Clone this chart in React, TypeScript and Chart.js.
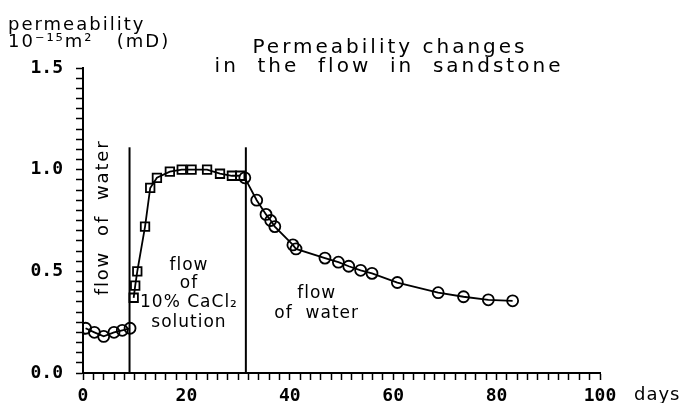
import React, { useEffect, useRef } from "react";
import { Chart, registerables } from "chart.js";

Chart.register(...registerables);

// ---- data ----
const waterBeforeDays = [0.5, 2.2, 4, 6, 7.6, 9.1];
const waterBeforePerm = [0.22, 0.2, 0.18, 0.2, 0.21, 0.22];

const cacl2Days = [9.8, 10.1, 10.5, 12, 13, 14.3, 16.8, 19.1, 21, 24, 26.5, 28.8, 30.4];
const cacl2Perm = [0.37, 0.43, 0.5, 0.72, 0.91, 0.96, 0.99, 1.0, 1.0, 1.0, 0.98, 0.97, 0.97];

const waterAfterDays = [31.3, 33.6, 35.4, 36.3, 37.1, 40.6, 41.2, 46.8, 49.4, 51.4, 53.7, 55.9, 60.8, 68.7, 73.6, 78.4, 83.1];
const waterAfterPerm = [0.96, 0.85, 0.78, 0.75, 0.72, 0.63, 0.61, 0.565, 0.545, 0.525, 0.505, 0.49, 0.445, 0.395, 0.375, 0.36, 0.355];

const dividerDays = [9, 31.5];
const dividerTop = 1.11;

const xMin = 0;
const xMax = 100;
const xMinorStep = 2;
const xMajorStep = 20;
const yMin = 0;
const yMax = 1.5;
const yMinorStep = 0.05;
const yMajorStep = 0.5;

const titleLines = ["Permeability changes", "in  the  flow  in  sandstone"];
const yTitleLines = ["permeability", "10\u207B\u00B9\u2075m\u00B2   (mD)"];
const xUnit = "days";
const phase1Label = "flow  of  water";
const phase2Lines = ["flow", "of", "10% CaCl\u2082", "solution"];
const phase3Lines = ["flow", "of  water"];

const pts = (xs: number[], ys: number[]) => xs.map((x, i) => ({ x, y: ys[i] }));

const isMultiple = (v: number, step: number) =>
  Math.abs(v / step - Math.round(v / step)) < 1e-6;

const SANS = "'DejaVu Sans', sans-serif";
const MONO = "'DejaVu Sans Mono', monospace";

const textPlugin = {
  id: "annotText",
  afterDraw(chart: any) {
    const ctx = chart.ctx as CanvasRenderingContext2D;
    const xs = chart.scales.x;
    const ys = chart.scales.y;
    ctx.save();
    ctx.fillStyle = "#000";
    ctx.textBaseline = "alphabetic";

    // title
    ctx.font = `20px ${SANS}`;
    (ctx as any).letterSpacing = "3px";
    ctx.textAlign = "center";
    ctx.fillText(titleLines[0], 390, 53);
    ctx.fillText(titleLines[1], 389, 72);

    // y title
    ctx.textAlign = "left";
    (ctx as any).letterSpacing = "2px";
    ctx.font = `18px ${SANS}`;
    ctx.fillText(yTitleLines[0], 8, 30);
    ctx.fillText(yTitleLines[1], 8, 47);

    // x unit
    ctx.font = `18px ${SANS}`;
    (ctx as any).letterSpacing = "1px";
    ctx.fillText(xUnit, 634, 400);

    // phase labels
    ctx.font = `17px ${SANS}`;
    ctx.textAlign = "center";
    (ctx as any).letterSpacing = "1px";
    const p2x = xs.getPixelForValue(20.5);
    const base2 = [270, 288, 307, 327];
    phase2Lines.forEach((t, i) => ctx.fillText(t, p2x, base2[i]));
    const p3x = xs.getPixelForValue(45.2);
    const base3 = [298, 318];
    phase3Lines.forEach((t, i) => ctx.fillText(t, p3x, base3[i]));

    // rotated
    ctx.save();
    ctx.font = `18px ${SANS}`;
    (ctx as any).letterSpacing = "1.8px";
    ctx.translate(xs.getPixelForValue(4.0) + 4, ys.getPixelForValue(0.765));
    ctx.rotate(-Math.PI / 2);
    ctx.textAlign = "center";
    ctx.fillText(phase1Label, 0, 0);
    ctx.restore();

    ctx.restore();
  },
};

export default function App() {
  const ref = useRef<HTMLCanvasElement>(null);
  useEffect(() => {
    if (!ref.current) return;
    const lineDs = (data: any[], style: string, r: number) => ({
      data,
      borderColor: "#000",
      borderWidth: 1.8,
      pointStyle: style,
      pointRadius: r,
      pointBorderWidth: 1.8,
      pointBorderColor: "#000",
      pointBackgroundColor: "rgba(0,0,0,0)",
      tension: 0,
      fill: false,
    });
    const dividers = dividerDays.map((d) => ({
      data: [
        { x: d, y: yMin },
        { x: d, y: dividerTop },
      ],
      borderColor: "#000",
      borderWidth: 2,
      pointRadius: 0,
      tension: 0,
      fill: false,
    }));
    const chart = new Chart(ref.current, {
      type: "line",
      data: {
        datasets: [
          ...dividers,
          lineDs(pts(waterBeforeDays, waterBeforePerm), "circle", 5.5),
          lineDs(pts(cacl2Days, cacl2Perm), "rect", 6),
          lineDs(pts(waterAfterDays, waterAfterPerm), "circle", 5.5),
        ] as any,
      },
      options: {
        animation: false,
        responsive: false,
        events: [],
        layout: { padding: { left: 0, top: 68, right: 88, bottom: 0 } },
        plugins: {
          legend: { display: false },
          tooltip: { enabled: false },
          title: { display: false },
        },
        scales: {
          x: {
            type: "linear",
            min: xMin,
            max: xMax,
            afterFit: (s: any) => {
              s.height = 30;
            },
            border: { display: true, color: "#000", width: 2 },
            grid: {
              drawOnChartArea: false,
              drawTicks: true,
              tickLength: 7,
              tickWidth: 1.5,
              tickColor: "#000",
            },
            ticks: {
              stepSize: xMinorStep,
              autoSkip: false,
              maxRotation: 0,
              padding: 6,
              color: "#000",
              font: { family: MONO, size: 18, weight: "bold" },
              callback: (v: any) => (isMultiple(Number(v), xMajorStep) ? String(v) : ""),
            },
          },
          y: {
            type: "linear",
            min: yMin,
            max: yMax,
            afterFit: (s: any) => {
              s.width = 83;
            },
            border: { display: true, color: "#000", width: 2 },
            grid: {
              drawOnChartArea: false,
              drawTicks: true,
              tickLength: 7,
              tickWidth: 1.5,
              tickColor: "#000",
            },
            ticks: {
              stepSize: yMinorStep,
              autoSkip: false,
              padding: 13,
              color: "#000",
              font: { family: MONO, size: 18, weight: "bold" },
              callback: (v: any) =>
                isMultiple(Number(v), yMajorStep) ? Number(v).toFixed(1) : "",
            },
          },
        },
      } as any,
      plugins: [textPlugin],
    });
    return () => chart.destroy();
  }, []);
  return (
    <div style={{ position: "fixed", left: 0, top: 0, width: 688, height: 403, background: "#fff" }}>
      <canvas ref={ref} width={688} height={403} style={{ display: "block" }} />
    </div>
  );
}
